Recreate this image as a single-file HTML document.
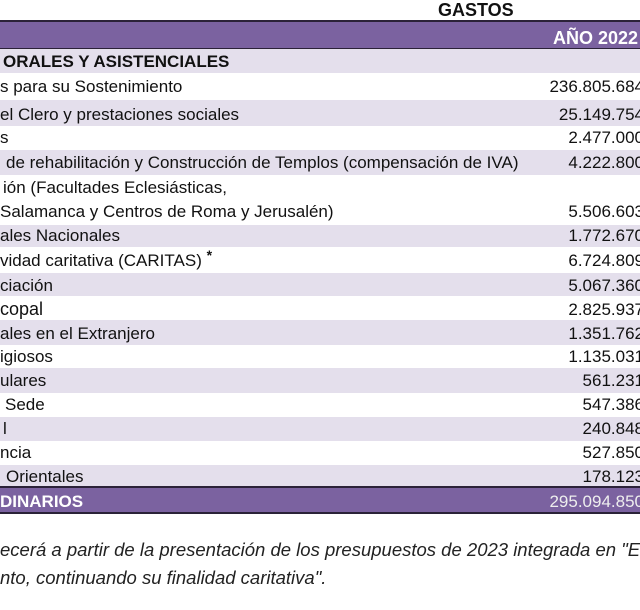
<!DOCTYPE html>
<html><head><meta charset="utf-8"><style>
body{margin:0;width:640px;height:610px;overflow:hidden;background:#fff;font-family:"Liberation Sans",Arial,sans-serif;color:#111;position:relative}
.r{position:absolute;left:0;width:640px}
.l{background:#e4dfec}
.t{position:absolute;font-size:17px;white-space:nowrap;line-height:18px}
.n{position:absolute;right:-4px;font-size:17px;white-space:nowrap;line-height:18px;text-align:right}
.p{background:#7b62a0;border-top:2px solid #2b2238;border-bottom:2px solid #2b2238}
.s{position:relative;top:-6px;font-size:14px;font-weight:bold}
</style></head><body>
<div class="t" style="left:438px;top:1px;font-weight:bold;font-size:18px">GASTOS</div>
<div class="r p" style="top:20px;height:26px"></div>
<div class="t" style="right:2px;top:29px;font-weight:bold;font-size:18px;color:#fff">AÑO 2022</div>

<div class="r l" style="top:49px;height:24px"></div>
<div class="t" style="left:3px;top:53px;font-weight:bold;font-size:17px">ORALES Y ASISTENCIALES</div>

<div class="t" style="left:0;top:78px">s para su Sostenimiento</div><div class="n" style="top:78px">236.805.684</div>
<div class="r l" style="top:100px;height:26px"></div>
<div class="t" style="left:0;top:106px">el Clero y prestaciones sociales</div><div class="n" style="top:106px">25.149.754</div>
<div class="t" style="left:0;top:129px">s</div><div class="n" style="top:129px">2.477.000</div>
<div class="r l" style="top:150px;height:25px"></div>
<div class="t" style="left:6px;top:154px">de rehabilitación y Construcción de Templos (compensación de IVA)</div><div class="n" style="top:154px">4.222.800</div>
<div class="t" style="left:3px;top:179px">ión (Facultades Eclesiásticas,</div>
<div class="t" style="left:0;top:203px">Salamanca y Centros de Roma y Jerusalén)</div><div class="n" style="top:203px">5.506.603</div>
<div class="r l" style="top:225px;height:22px"></div>
<div class="t" style="left:0;top:227px">ales Nacionales</div><div class="n" style="top:227px">1.772.670</div>
<div class="t" style="left:0;top:252px">vidad caritativa (CARITAS) <span class="s">*</span></div><div class="n" style="top:252px">6.724.809</div>
<div class="r l" style="top:273px;height:23px"></div>
<div class="t" style="left:0;top:277px">ciación</div><div class="n" style="top:277px">5.067.360</div>
<div class="t" style="left:0;top:300px;font-size:18px">copal</div><div class="n" style="top:301px">2.825.937</div>
<div class="r l" style="top:320px;height:25px"></div>
<div class="t" style="left:0;top:325px">ales en el Extranjero</div><div class="n" style="top:325px">1.351.762</div>
<div class="t" style="left:0;top:348px">igiosos</div><div class="n" style="top:348px">1.135.031</div>
<div class="r l" style="top:368px;height:25px"></div>
<div class="t" style="left:0;top:372px">ulares</div><div class="n" style="top:372px">561.231</div>
<div class="t" style="left:5px;top:396px">Sede</div><div class="n" style="top:396px">547.386</div>
<div class="r l" style="top:417px;height:24px"></div>
<div class="t" style="left:3px;top:420px">l</div><div class="n" style="top:420px">240.848</div>
<div class="t" style="left:0;top:444px">ncia</div><div class="n" style="top:444px">527.850</div>
<div class="r l" style="top:465px;height:22px"></div>
<div class="t" style="left:6px;top:468px">Orientales</div><div class="n" style="top:468px">178.123</div>
<div class="r p" style="top:486px;height:24px"></div>
<div class="t" style="left:0;top:493px;font-weight:bold;color:#fff">DINARIOS</div><div class="n" style="top:493px;color:#eee">295.094.850</div>

<div class="t" style="left:0;top:541px;font-style:italic;font-size:18.5px;color:#222">ecerá a partir de la presentación de los presupuestos de 2023 integrada en "El</div>
<div class="t" style="left:0;top:569px;font-style:italic;font-size:18.5px;color:#222">nto, continuando su finalidad caritativa".</div>
</body></html>
